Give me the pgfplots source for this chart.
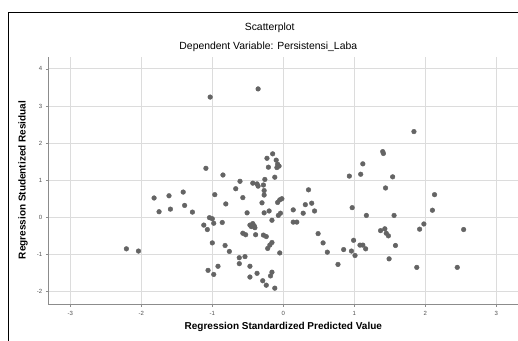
\documentclass[border=0pt]{standalone}
\usepackage{fontspec}
\setmainfont{Liberation Sans}
\usepackage{pgfplots}
\pgfplotsset{compat=1.18}
\definecolor{dotgray}{RGB}{100,100,100}
\definecolor{gridgray}{RGB}{220,220,220}
\definecolor{axisgray}{RGB}{140,140,140}
\definecolor{ticktext}{RGB}{80,80,80}
\begin{document}
\begin{tikzpicture}
\useasboundingbox[fill=white] (0pt,0pt) rectangle (518pt,340pt);
\draw[line width=1.5pt] (8.3pt,-5pt) -- (8.3pt,327.7pt) -- (530pt,327.7pt);
\node[font=\fontsize{10.4}{12}\selectfont] at (269.7pt,312pt) {Scatterplot};
\node[font=\fontsize{10.4}{12}\selectfont] at (268.3pt,293pt) {Dependent Variable: Persistensi\_Laba};
\node[font=\bfseries\fontsize{10}{12}\selectfont] at (283.3pt,13pt) {Regression Standardized Predicted Value};
\node[font=\bfseries\fontsize{10}{12}\selectfont, rotate=90] at (23pt,160pt) {Regression Studentized Residual};
\begin{axis}[
  at={(48.3pt,35.7pt)}, anchor=south west,
  scale only axis, width=470pt, height=247.3pt,
  xmin=-3.31, xmax=3.31, ymin=-2.345, ymax=4.32,
  axis lines=left,
  axis line style={axisgray, line width=0.8pt, -},
  xtick={-3,-2,-1,0,1,2,3},
  ytick={-2,-1,0,1,2,3,4},
  grid=major,
  grid style={gridgray, line width=0.9pt},
  tick align=outside,
  major tick length=2.5pt,
  tick style={axisgray, line width=0.6pt},
  /pgf/number format/assume math mode=true,
  tick label style={font=\fontsize{6}{7}\selectfont, text=ticktext},
  xticklabel style={yshift=-1pt},
  clip=false,
]
\addplot[only marks, mark=*, mark size=2.35pt, mark options={fill=dotgray, draw=dotgray}] coordinates {
(-0.355,3.46) (-1.03,3.24) (-1.09,1.32) (-0.85,1.14)
(-1.82,0.52) (-1.61,0.58) (-1.41,0.68) (-1.75,0.15) (-1.59,0.22) (-1.39,0.32) (-1.28,0.14)
(-2.21,-0.85) (-2.04,-0.91)
(-0.965,0.61) (-1.04,-0.01) (-1.00,-0.04) (-0.98,-0.16) (-1.12,-0.21) (-1.07,-0.33) (-0.86,-0.14)
(-0.81,0.36) (-1.00,-0.69) (-0.82,-0.76) (-0.76,-0.92)
(-1.06,-1.43) (-0.92,-1.32) (-0.98,-1.54)
(-0.67,0.77) (-0.61,0.97) (-0.57,0.53) (-0.51,0.12)
(-0.62,-1.09) (-0.62,-1.25) (-0.54,-1.06) (-0.57,-0.43) (-0.53,-0.47)
(-0.47,-1.32) (-0.47,-1.61) (-0.37,-1.51) (-0.29,-1.71) (-0.24,-1.83) (-0.12,-1.91)
(-0.43,0.92) (-0.37,0.90) (-0.355,0.84) (-0.28,0.87)
(-0.27,0.72) (-0.27,0.60) (-0.26,1.02)
(-0.23,1.59) (-0.15,1.71) (-0.10,1.54) (-0.21,1.35)
(-0.08,1.43) (-0.06,1.38) (-0.09,1.34) (-0.12,1.08)
(-0.30,0.39) (-0.27,0.12) (-0.20,0.17) (-0.16,-0.08)
(-0.47,-0.21) (-0.43,-0.17) (-0.41,-0.23) (-0.45,-0.25) (-0.40,-0.28)
(-0.39,-0.47) (-0.28,-0.48) (-0.24,-0.52)
(-0.16,-0.68) (-0.19,-0.75) (-0.22,-0.84)
(-0.16,-1.48) (-0.18,-1.58)
(-0.08,0.40) (-0.05,0.47) (-0.02,0.50)
(-0.07,0.05) (-0.04,0.11) (-0.05,-0.96)
(1.84,2.31) (1.40,1.77) (1.41,1.72) (1.12,1.44) (0.93,1.11) (1.09,1.16) (1.54,1.09)
(1.44,0.79) (2.13,0.61) (2.10,0.19) (0.97,0.26) (1.17,0.05) (1.56,0.05)
(0.355,0.74) (0.31,0.34) (0.40,0.38) (0.44,0.17) (0.28,0.11) (0.14,0.20)
(0.14,-0.13) (0.19,-0.13)
(0.49,-0.44) (0.56,-0.69) (0.62,-0.94) (0.77,-1.27)
(0.85,-0.87) (0.96,-0.91) (0.99,-0.62) (1.01,-1.03)
(1.08,-0.75) (1.12,-0.75) (1.16,-0.85)
(1.37,-0.36) (1.43,-0.31) (1.45,-0.43) (1.48,-0.50)
(1.58,-0.76) (1.49,-1.12) (1.88,-1.35) (1.92,-0.32) (1.98,-0.18)
(2.45,-1.35) (2.54,-0.33)
};
\end{axis}
\end{tikzpicture}
\end{document}
